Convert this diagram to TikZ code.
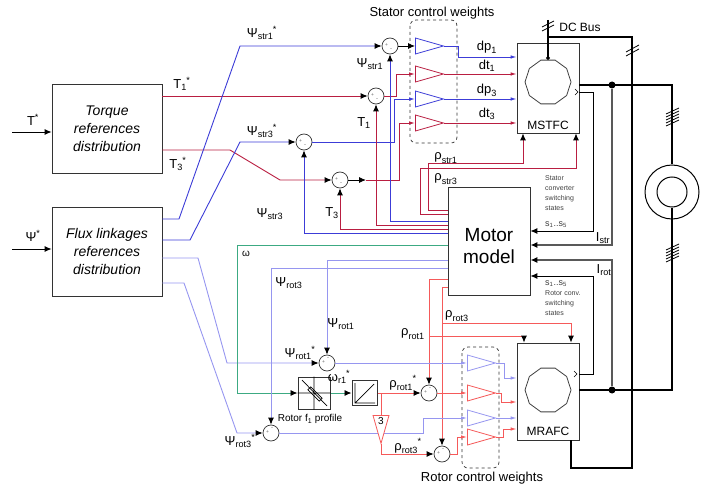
\documentclass[tikz,border=0pt]{standalone}
\usepackage{amsmath}
\usepackage{fontspec}
\setmainfont{Liberation Sans}
\usetikzlibrary{arrows.meta,shapes.geometric}

\definecolor{sblue}{RGB}{60,60,215}
\definecolor{sred}{RGB}{185,30,65}
\definecolor{rblue}{RGB}{150,150,240}
\definecolor{rred}{RGB}{245,90,90}
\definecolor{wgreen}{RGB}{60,170,130}

\newcommand{\sx}[2]{$\text{#1}_{\text{#2}}$}
\newcommand{\sxs}[2]{$\text{#1}_{\text{#2}}$\kern-0.5pt\raisebox{1pt}{\textsuperscript{*}}}
\newcommand{\st}[1]{#1\textsuperscript{*}}

\tikzset{
  blk/.style={draw=black!80,line width=0.8pt,inner sep=0pt},
  sigma/.style={circle,draw=black!80,fill=white,line width=0.7pt,minimum size=16pt,inner sep=0pt,
    path picture={\node[font=\fontsize{5}{5}\selectfont,inner sep=0pt,black!60] at ([xshift=-3.5pt,yshift=1pt]path picture bounding box.center) {+};
      \node[font=\fontsize{6}{6}\selectfont,inner sep=0pt,black!60] at ([xshift=1pt,yshift=#1]path picture bounding box.center) {-};}},
  sigma/.default=-4pt,
  gain/.style={isosceles triangle,isosceles triangle stretches,draw,fill=white,line width=0.8pt,minimum width=16pt,minimum height=28pt,inner sep=0pt,anchor=lower side},
  conv/.style={regular polygon,regular polygon sides=10,draw=black!75,line width=0.8pt,minimum size=46pt,inner sep=0pt},
  ftip/.style={-{Latex[length=7pt,width=6pt,color=black]}},
  stip/.style={-{Latex[length=6pt,width=3.5pt]}},
  wire/.style={line width=0.9pt},
  bus/.style={line width=2.2pt},
  jdot/.style={circle,fill,inner sep=0pt,minimum size=7pt},
  wbox/.style={draw=black!80,dashed,rounded corners=6pt,line width=0.7pt},
  lbl/.style={inner sep=0pt,font=\fontsize{13}{15}\selectfont},
  smalltxt/.style={inner sep=0pt,font=\fontsize{7}{10.3}\selectfont,text=black!75,align=left},
}

\begin{document}
\begin{tikzpicture}[x=1pt,y=-1pt]
\useasboundingbox (0,0) rectangle (706,489);

\node[blk,minimum width=110pt,minimum height=89pt,align=center,font=\fontsize{14}{18}\selectfont\itshape] (tq) at (107,128.5) {Torque\\references\\distribution};
\node[blk,minimum width=110pt,minimum height=89pt,align=center,font=\fontsize{14}{18}\selectfont\itshape] (fl) at (107,251.5) {Flux linkages\\references\\distribution};
\node[blk,minimum width=82pt,minimum height=108pt] (mm) at (489,241) {};
\node[align=center,font=\fontsize{19}{22}\selectfont,inner sep=0pt] (mmt) at (489,246) {Motor\\model};
\node[blk,minimum width=62pt,minimum height=90pt] (mstfc) at (548,88) {};
\node[blk,minimum width=62pt,minimum height=97pt] (mrafc) at (548,391.5) {};
\node[conv] (cs) at (548,82) {};
\node[conv] (cr) at (548,390) {};
\node[lbl,font=\fontsize{12}{14}\selectfont] (mstfct) at (548,125) {MSTFC};
\node[lbl,font=\fontsize{12}{14}\selectfont] (mrafct) at (548,431) {MRAFC};
\node[circle,draw,line width=1pt,minimum size=54pt] (mot) at (672,192) {};
\node[circle,draw,line width=1pt,minimum size=30pt] (rot) at (672,192) {};

\draw[wbox] (410,20) rectangle (457,143);
\draw[wbox] (462,347) rectangle (499,468);

\node[sigma] (s1) at (390,46) {};
\node[sigma] (s2) at (376,96) {};
\node[sigma] (s3) at (304,142) {};
\node[sigma] (s4) at (340,180) {};
\node[sigma=4pt] (s5) at (327,363) {};
\node[sigma=4pt] (s6) at (271,433) {};
\node[sigma=4pt] (s7) at (429,393) {};
\node[sigma=4pt] (s8) at (442,454) {};

\node[gain,draw=sblue] (g1) at (415,46) {};
\node[gain,draw=sred] (g2) at (415,74) {};
\node[gain,draw=sblue] (g3) at (415,99) {};
\node[gain,draw=sred] (g4) at (415,123) {};
\node[gain,draw=rblue] (g5) at (467,363) {};
\node[gain,draw=rred] (g6) at (467,393) {};
\node[gain,draw=rblue] (g7) at (467,418) {};
\node[gain,draw=rred] (g8) at (467,437) {};

\node[blk,minimum size=32pt,line width=1pt] (prof) at (314,393) {};
\node[blk,minimum size=25pt,line width=1pt] (ramp) at (364.5,393) {};
\draw[line width=0.7pt] (prof.west) -- (prof.east) (prof.north) -- (prof.south) (302,380) -- (327,406);
\draw[line width=0.7pt] (322.1,398.2) -- (319.2,401.1) -- (307.9,389.8) -- (310.8,386.9) -- cycle;
\draw[line width=0.7pt] (355,383) -- (355,403) -- (375,403) (355,403) -- (374,384);

\coordinate (tin) at (12,132);
\coordinate (pin) at (12,249);
\draw[wire,ftip] (tin) -- (tin -| tq.west);
\draw[wire,ftip] (pin) -- (pin -| fl.west);

\draw[wire,sred,ftip] (tq.east |- 0,96) -- (s2.west);
\draw[wire,sred,ftip] (tq.east |- 0,150) -- (230,150) -- (280,180) -- (s4.west);
\draw[wire,sblue,ftip] (fl.east |- 0,219) -- (179,219) -- (240,46) -- (s1.west);
\draw[wire,sblue,ftip] (fl.east |- 0,240) -- (190,240) -- (240,142) -- (s3.west);
\draw[wire,rblue,ftip] (fl.east |- 0,258) -- (198,258) -- (227,363) -- (s5.west);
\draw[wire,rblue,ftip] (fl.east |- 0,283) -- (184,283) -- (237,433) -- (s6.west);

\draw[wire,ftip] (s1.east) -- (g1.lower side);
\draw[wire,sred,stip] (s2.east) -- (396,96) -- (396,74) -- (g2.lower side);
\draw[wire,sblue,stip] (s3.east) -- (394,142) -- (394,99) -- (g3.lower side);
\draw[wire,ftip] (s4.east) -- (366,180) coordinate (s4o);
\draw[wire,sred,stip] (s4o) -- (399,180) -- (399,123) -- (g4.lower side);

\draw[wire,sblue,stip] (g1.apex) -- (458,46) -- (458,57) -- (mstfc.west |- 0,57);
\draw[wire,sred,stip] (g2.apex) -- (g2.apex -| mstfc.west);
\draw[wire,sblue,stip] (g3.apex) -- (g3.apex -| mstfc.west);
\draw[wire,sred,stip] (g4.apex) -- (g4.apex -| mstfc.west);

\draw[wire,sred,ftip] (mm.west |- 0,210) -- (428,210) -- (428,163) -- (523,163) -- (mstfc.south -| 523,0);
\draw[wire,sred,ftip] (mm.west |- 0,214) -- (420,214) -- (420,168) -- (576,168) -- (mstfc.south -| 576,0);
\draw[wire,sblue,ftip] (mm.west |- 0,221) -- (390,221) -- (s1.south);
\draw[wire,sred,ftip] (mm.west |- 0,225) -- (376,225) -- (s2.south);
\draw[wire,sred,ftip] (mm.west |- 0,229) -- (340,229) -- (s4.south);
\draw[wire,sblue,ftip] (mm.west |- 0,233) -- (304,233) -- (s3.south);
\draw[wire,wgreen,ftip] (mm.west |- 0,245) -- (237,245) -- (237,393) -- (prof.west);
\draw[wire,rblue,ftip] (mm.west |- 0,260) -- (327,260) -- (s5.north);
\draw[wire,rblue,ftip] (mm.west |- 0,268) -- (271,268) -- (s6.north);
\draw[wire,rred,ftip] (mm.west |- 0,279) -- (429,279) -- (s7.north);
\draw[wire,rred,ftip] (mm.west |- 0,287) -- (442,287) -- (s8.north);
\coordinate (r1) at (429,336);
\coordinate (r3) at (442,323);
\draw[wire,rred,ftip] (r1) -- (524,336) -- (mrafc.north -| 524,0);
\draw[wire,rred,ftip] (r3) -- (571,323) -- (mrafc.north -| 571,0);

\draw[wire,rblue,stip] (s5.east) -- (g5.lower side);
\draw[wire,wgreen,ftip] (prof.east) -- (ramp.west);
\draw[wire,rred,ftip] (ramp.east) -- (s7.west);
\draw[wire,rblue,stip] (s6.east) -- (423,433) -- (423,418) -- (g7.lower side);
\coordinate (r0) at (381,393);
\node[gain,draw=rred,shape border rotate=-90,font=\fontsize{10}{12}\selectfont] (g9) at (381,415) {3};
\draw[wire,rred] (r0) -- (g9.lower side);
\draw[wire,rred,ftip] (g9.apex) -- (381,454) -- (s8.west);
\draw[wire,rred,stip] (s7.east) -- (g6.lower side);
\draw[wire,rred,stip] (s8.east) -- (457,454) -- (457,437) -- (g8.lower side);

\draw[wire,rblue,stip] (g5.apex) -- (504,363) -- (504,378) -- (mrafc.west |- 0,378);
\draw[wire,rred,stip] (g6.apex) -- (501,393) -- (501,402) -- (mrafc.west |- 0,402);
\draw[wire,rblue,stip] (g7.apex) -- (g7.apex -| mrafc.west);
\draw[wire,rred,stip] (g8.apex) -- (503,437) -- (503,429) -- (mrafc.west |- 0,429);

\node[jdot] (j1) at (612,85) {};
\node[jdot] (j2) at (612,390) {};
\draw[bus] (mstfc.east |- 0,85) -- (672,85) -- (mot.north);
\draw[bus] (mrafc.east |- 0,390) -- (672,390) -- (rot.south);
\draw[line width=1.3pt,black!65,ftip] (j1) -- (612,245) -- (mm.east |- 0,245);
\draw[line width=1.3pt,black!65,ftip] (j2) -- (612,260) -- (mm.east |- 0,260);
\draw[wire,ftip] (mstfc.east |- 0,92) -- (593,92) -- (593,231) -- (mm.east |- 0,231);
\draw[wire,ftip] (mrafc.east |- 0,374) -- (593,374) -- (593,276) -- (mm.east |- 0,276);
\draw[line width=0.6pt] (575,89) -- (578,92) -- (575,95);
\draw[line width=0.6pt] (574,371) -- (577,374) -- (574,377);

\coordinate (dc) at (548,20);
\draw[bus] (dc) -- (548,37) -- (632,37) -- (632,468) -- (571,468) -- (mrafc.south -| 571,0);
\draw[line width=1.6pt,-{Circle[length=3.5pt]}] (548,37) -- (cs.north);
\foreach \d in {0,4} \draw[line width=0.8pt] (542,{31-\d}) -- (554,{25-\d});
\foreach \d in {0,4} \draw[line width=0.8pt] (626,{56-\d}) -- (639,{49-\d});
\foreach \d in {0,3,...,12} \draw[line width=0.8pt] (666,{126-\d}) -- (679,{120-\d});
\foreach \d in {0,3,...,12} \draw[line width=0.8pt] (666,{262-\d}) -- (679,{256-\d});

\node[lbl] at (33,120) {\st{T}};
\node[lbl] at (33,236) {\st{Ψ}};
\node[lbl] at (182,84) {\sxs{T}{1}};
\node[lbl] at (178,164) {\sxs{T}{3}};
\node[lbl] at (262,33) {\sxs{Ψ}{str1}};
\node[lbl] at (262,131) {\sxs{Ψ}{str3}};
\node[lbl] at (370,64) {\sx{Ψ}{str1}};
\node[lbl] at (364,123) {\sx{T}{1}};
\node[lbl] at (270,214) {\sx{Ψ}{str3}};
\node[lbl] at (332,213) {\sx{T}{3}};
\node[lbl] at (446,158) {\sx{ρ}{str1}};
\node[lbl] at (446,179) {\sx{ρ}{str3}};
\node[lbl] at (487,47) {\sx{dp}{1}};
\node[lbl] at (487,66) {\sx{dt}{1}};
\node[lbl] at (487,90) {\sx{dp}{3}};
\node[lbl] at (487,114) {\sx{dt}{3}};
\node[lbl] at (432,13) {Stator control weights};
\node[lbl] at (482,478) {Rotor control weights};
\node[lbl,font=\fontsize{12}{14}\selectfont] at (580,27) {DC Bus};
\node[lbl,font=\fontsize{10}{12}\selectfont] at (246,254) {ω};
\node[lbl] at (289,283) {\sx{Ψ}{rot3}};
\node[lbl] at (341,324) {\sx{Ψ}{rot1}};
\node[lbl] at (457,316) {\sx{ρ}{rot3}};
\node[lbl] at (413,334) {\sx{ρ}{rot1}};
\node[lbl] at (300,353) {\sxs{Ψ}{rot1}};
\node[lbl] at (339,377) {\sxs{ω}{r1}};
\node[lbl] at (403,383) {\sxs{ρ}{rot1}};
\node[lbl] at (408,446) {\sxs{ρ}{rot3}};
\node[lbl] at (240,441) {\sxs{Ψ}{rot3}};
\node[lbl,font=\fontsize{10}{12}\selectfont] at (310,419) {Rotor f\textsubscript{1} profile};
\node[lbl] at (603,238) {\sx{I}{str}};
\node[lbl] at (604,270) {\sx{I}{rot}};
\node[smalltxt,anchor=north west] at (545,175) {Stator\\converter\\switching\\states};
\node[smalltxt,anchor=west,font=\fontsize{9}{10}\selectfont] at (545,225) {s\textsubscript{1}..s\textsubscript{5}};
\node[smalltxt,anchor=west,font=\fontsize{9}{10}\selectfont] at (545,284) {s\textsubscript{1}..s\textsubscript{5}};
\node[smalltxt,anchor=north west] at (545,290) {Rotor conv.\\switching\\states};
\end{tikzpicture}
\end{document}
